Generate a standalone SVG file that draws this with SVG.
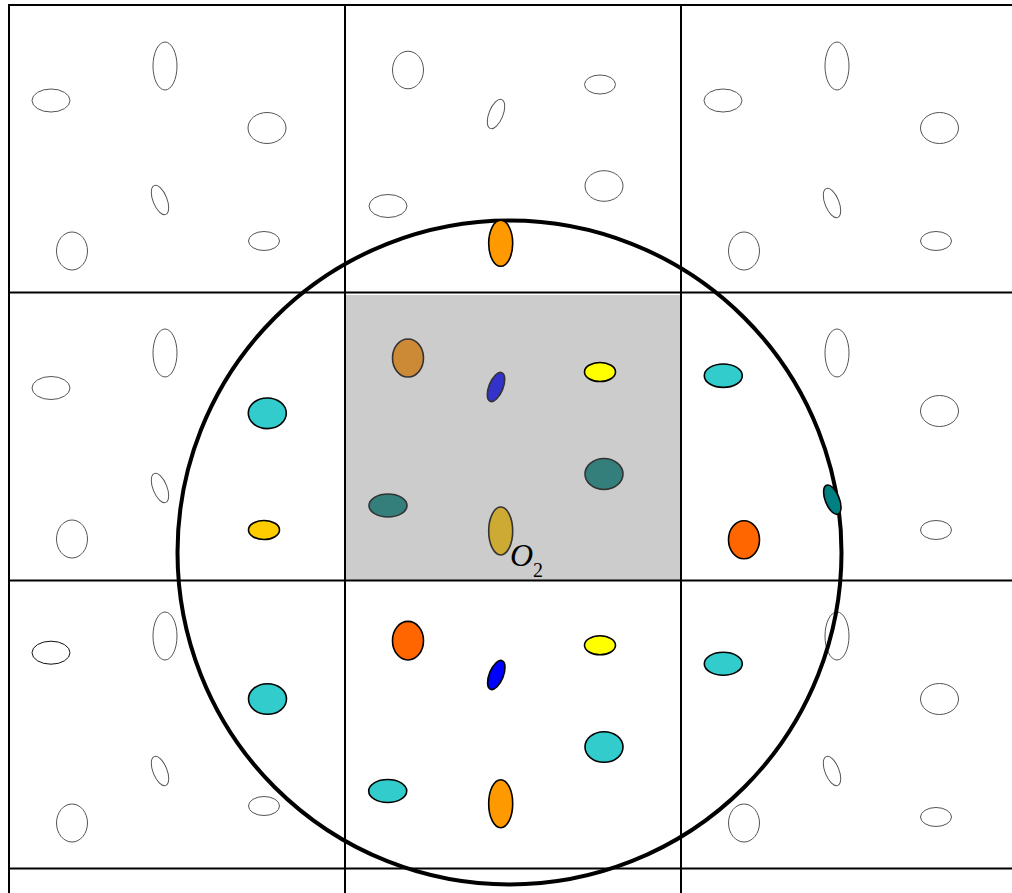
<svg xmlns="http://www.w3.org/2000/svg" width="1012" height="893" viewBox="0 0 1012 893">
<style>
.grid{stroke:#000;stroke-width:2;fill:none}
.o{fill:none;stroke:#555;stroke-width:1}
.f{stroke:#000;stroke-width:1.6}
.g{stroke:#333;stroke-width:1.6}
.lab{font-family:"Liberation Serif",serif;fill:#000}
</style>
<rect width="1012" height="893" fill="#fff"/>
<rect id="shade" x="346" y="295" width="335" height="286" fill="#cccccc"/>
<g id="grid" class="grid">
<line x1="9" y1="5" x2="1012" y2="5"/>
<line x1="9" y1="292.5" x2="1012" y2="292.5"/>
<line x1="9" y1="580.5" x2="1012" y2="580.5"/>
<line x1="9" y1="868.5" x2="1012" y2="868.5"/>
<line x1="9" y1="4" x2="9" y2="893"/>
<line x1="345" y1="4" x2="345" y2="893"/>
<line x1="681" y1="4" x2="681" y2="893"/>
</g>
<g id="cell-top-left">
<ellipse class="o" cx="51" cy="100.5" rx="19" ry="11.5"/>
<ellipse class="o" cx="165" cy="66" rx="12" ry="24"/>
<ellipse class="o" cx="267" cy="128" rx="19" ry="15.5"/>
<ellipse class="o" cx="160" cy="200" rx="7" ry="15.5" transform="rotate(-22 160 200)"/>
<ellipse class="o" cx="72" cy="251" rx="15.5" ry="19"/>
<ellipse class="o" cx="264" cy="241" rx="15.5" ry="9.5"/>
</g>
<g id="cell-top-middle">
<ellipse class="o" cx="408" cy="70" rx="15.5" ry="18.8"/>
<ellipse class="o" cx="600" cy="84.5" rx="15.5" ry="9.5"/>
<ellipse class="o" cx="496" cy="114" rx="7" ry="15.5" transform="rotate(22 496 114)"/>
<ellipse class="o" cx="604" cy="186" rx="19" ry="15.3"/>
<ellipse class="o" cx="388" cy="206" rx="19" ry="11.5"/>
</g>
<g id="cell-top-right">
<ellipse class="o" cx="723" cy="100.5" rx="19" ry="11.5"/>
<ellipse class="o" cx="837" cy="66" rx="12" ry="24"/>
<ellipse class="o" cx="939.5" cy="128" rx="19" ry="15.5"/>
<ellipse class="o" cx="832" cy="203" rx="7" ry="15.5" transform="rotate(-22 832 203)"/>
<ellipse class="o" cx="744" cy="251" rx="15.5" ry="19"/>
<ellipse class="o" cx="936" cy="241" rx="15.5" ry="9.5"/>
</g>
<g id="cell-middle-left">
<ellipse class="o" cx="51" cy="388" rx="19" ry="11.5"/>
<ellipse class="o" cx="165" cy="353" rx="12" ry="24"/>
<ellipse class="o" cx="160" cy="488" rx="7" ry="15.5" transform="rotate(-22 160 488)"/>
<ellipse class="o" cx="72" cy="539" rx="15.5" ry="19"/>
</g>
<g id="cell-middle-right">
<ellipse class="o" cx="837" cy="353" rx="12" ry="24"/>
<ellipse class="o" cx="939.5" cy="411" rx="19" ry="15.5"/>
<ellipse class="o" cx="936" cy="530" rx="15.5" ry="9.5"/>
</g>
<g id="cell-bottom-left">
<ellipse class="o" cx="51" cy="652.7" rx="19" ry="11.5" style="stroke:#111"/>
<ellipse class="o" cx="165" cy="636" rx="12" ry="24"/>
<ellipse class="o" cx="160" cy="771" rx="7" ry="15.5" transform="rotate(-22 160 771)"/>
<ellipse class="o" cx="72" cy="823" rx="15.5" ry="19"/>
<ellipse class="o" cx="264" cy="806" rx="15.5" ry="9.5"/>
</g>
<g id="cell-bottom-right">
<ellipse class="o" cx="837" cy="636" rx="12" ry="24"/>
<ellipse class="o" cx="939.5" cy="699" rx="19" ry="15.5"/>
<ellipse class="o" cx="832" cy="771" rx="7" ry="15.5" transform="rotate(-22 832 771)"/>
<ellipse class="o" cx="744" cy="823" rx="15.5" ry="19"/>
<ellipse class="o" cx="936" cy="817" rx="15.5" ry="9.5"/>
</g>
<circle id="cutoff" cx="509.5" cy="552.5" r="332" fill="none" stroke="#000" stroke-width="4"/>
<g id="cell-center">
<ellipse class="g" cx="408" cy="358" rx="15.5" ry="19" fill="#cc8a36"/>
<ellipse class="g" cx="496" cy="387" rx="7" ry="15.5" fill="#3333cc" transform="rotate(22 496 387)"/>
<ellipse class="f" cx="600" cy="372" rx="15.5" ry="9.5" fill="#ffff00"/>
<ellipse class="g" cx="604" cy="474" rx="19" ry="15.5" fill="#347e7c"/>
<ellipse class="g" cx="388" cy="505.5" rx="19" ry="11.5" fill="#347e7c"/>
<ellipse class="g" cx="500.7" cy="531" rx="12" ry="24" fill="#ccaa33"/>
<text class="lab" x="510" y="566" font-size="32"><tspan font-style="italic">O</tspan><tspan dy="11" font-size="20">2</tspan></text>
</g>
<g id="neighbours">
<ellipse class="f" cx="500.7" cy="243.3" rx="12" ry="23" fill="#ff9900"/>
<ellipse class="f" cx="267.3" cy="413.3" rx="19" ry="15.3" fill="#33cccc"/>
<ellipse class="f" cx="264" cy="530" rx="15.5" ry="9.5" fill="#ffcc00"/>
<ellipse class="f" cx="723.3" cy="375.7" rx="19" ry="11.7" fill="#33cccc"/>
<ellipse class="f" cx="832.3" cy="499.7" rx="7" ry="15.5" fill="#008080" transform="rotate(-22 832.3 499.7)"/>
<ellipse class="f" cx="744" cy="539.7" rx="15.5" ry="19" fill="#ff6600"/>
<ellipse class="f" cx="267.5" cy="699" rx="19" ry="15.3" fill="#33cccc"/>
<ellipse class="f" cx="723.3" cy="663.7" rx="19" ry="11.5" fill="#33cccc"/>
<ellipse class="f" cx="408" cy="640.7" rx="15.5" ry="19.3" fill="#ff6600"/>
<ellipse class="f" cx="496.3" cy="675" rx="7" ry="15.5" fill="#0000ff" transform="rotate(22 496.3 675)"/>
<ellipse class="f" cx="600" cy="645.3" rx="15.5" ry="9.5" fill="#ffff00"/>
<ellipse class="f" cx="604" cy="747" rx="19" ry="15.3" fill="#33cccc"/>
<ellipse class="f" cx="387.7" cy="791" rx="19" ry="11.5" fill="#33cccc"/>
<ellipse class="f" cx="500.7" cy="803.7" rx="12" ry="24" fill="#ff9900"/>
</g>
</svg>
